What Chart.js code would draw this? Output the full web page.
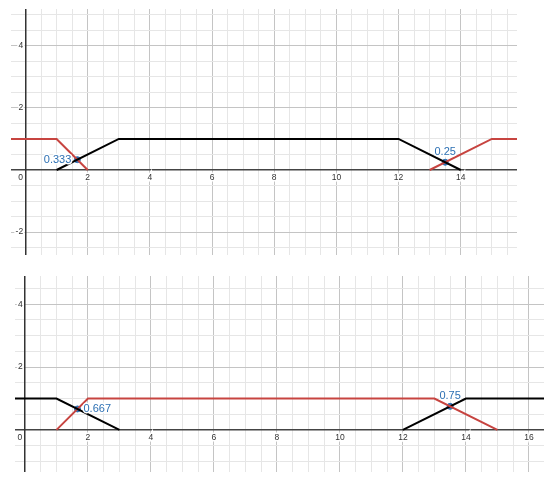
<!DOCTYPE html>
<html>
<head>
<meta charset="utf-8">
<script src="https://cdn.jsdelivr.net/npm/chart.js@4/dist/chart.umd.min.js"></script>
<style>
  html, body { margin: 0; padding: 0; background: #fff; }
  body { width: 550px; height: 480px; position: relative; overflow: hidden; }
  canvas { position: absolute; }
  #top-graph { left: 11px; top: 9px; }
  #bottom-graph { left: 15px; top: 276px; }
</style>
</head>
<body>
<canvas id="top-graph" width="506" height="246"></canvas>
<canvas id="bottom-graph" width="529" height="196"></canvas>
<script>
// ── 데이터 ──────────────────────────────────────────
// 위 그래프
const topBlackX = [1, 3, 12, 14];
const topBlackY = [0, 1, 1, 0];
const topRedLeftX = [-1, 1, 2];
const topRedLeftY = [1, 1, 0];
const topRedRightX = [13, 15, 17];
const topRedRightY = [0, 1, 1];
const topPointX = [1.667, 13.5];
const topPointY = [0.333, 0.25];
const topPointText = ["0.333", "0.25"];

// 아래 그래프
const botBlackLeftX = [-1, 1, 3];
const botBlackLeftY = [1, 1, 0];
const botRedX = [1, 2, 13, 15];
const botRedY = [0, 1, 1, 0];
const botBlackRightX = [12, 14, 17];
const botBlackRightY = [0, 1, 1];
const botPointX = [1.667, 13.5];
const botPointY = [0.667, 0.75];
const botPointText = ["0.667", "0.75"];

// 보이는 범위
const topRangeX = [-0.467, 15.81];
const topRangeY = [-2.74, 5.19];
const botRangeX = [-0.317, 16.48];
const botRangeY = [-1.34, 4.9];

const RED = "#c74440";
const BLACK = "#000000";
const BLUE = "#2d70b3";
const FONT = "'Liberation Sans', Arial, sans-serif";

const zip = (xs, ys) => xs.map((x, i) => ({ x, y: ys[i] }));

function lineSet(xs, ys, color) {
  return {
    type: "line",
    data: zip(xs, ys),
    borderColor: color,
    borderWidth: 2,
    pointRadius: 0,
    tension: 0,
    fill: false,
  };
}

function pointSet(xs, ys, texts, sides) {
  return {
    type: "scatter",
    data: zip(xs, ys),
    backgroundColor: BLUE,
    borderColor: BLUE,
    pointRadius: 3,
    pointLabels: texts,
    labelSides: sides,
  };
}

// ── 점 옆에 값 글자 ────────────────────────────────────────
const pointLabelPlugin = {
  id: "pointLabels",
  afterDatasetsDraw(chart) {
    const ctx = chart.ctx;
    chart.data.datasets.forEach((ds, i) => {
      if (!ds.pointLabels) return;
      chart.getDatasetMeta(i).data.forEach((el, j) => {
        const side = ds.labelSides[j];
        ctx.save();
        ctx.font = "11px " + FONT;
        ctx.fillStyle = BLUE;
        ctx.strokeStyle = "#fff";
        ctx.lineWidth = 3;
        ctx.lineJoin = "round";
        let x = el.x, y = el.y;
        if (side === "left") { ctx.textAlign = "right"; ctx.textBaseline = "middle"; x -= 6; }
        else if (side === "right") { ctx.textAlign = "left"; ctx.textBaseline = "middle"; x += 6; }
        else { ctx.textAlign = "center"; ctx.textBaseline = "alphabetic"; y -= 7; }
        ctx.strokeText(ds.pointLabels[j], x, y);
        ctx.fillText(ds.pointLabels[j], x, y);
        ctx.restore();
      });
    });
  },
};

const isMult = (v, s) => Math.abs(v / s - Math.round(v / s)) < 1e-6;

function gridColor(ctx) {
  const v = ctx.tick && ctx.tick.value;
  if (v === undefined || !isMult(v, 0.5)) return "rgba(0,0,0,0)";
  if (Math.abs(v) < 1e-6) return "rgba(0,0,0,0)";
  return isMult(v, 2) ? "#c4c4c4" : "#e6e6e6";
}

// 축 글자가 차트 영역을 밀어내지 않도록
const noPadding = (scale) => {
  scale.paddingLeft = 0;
  scale.paddingRight = 0;
  scale.paddingTop = 0;
  scale.paddingBottom = 0;
};

const tickFont = { family: FONT, size: 8.5 };
const baseTicks = {
  stepSize: 0.5,
  includeBounds: false,
  autoSkip: false,
  maxRotation: 0,
  padding: 3,
  color: "#333",
  font: tickFont,
  textStrokeColor: "#fff",
  textStrokeWidth: 3,
};

function makeGraph(id, rx, ry, datasets) {
  return new Chart(document.getElementById(id), {
    data: { datasets },
    plugins: [pointLabelPlugin],
    options: {
      responsive: false,
      maintainAspectRatio: false,
      animation: false,
      layout: { padding: 0, autoPadding: false },
      plugins: { legend: { display: false }, tooltip: { enabled: false } },
      scales: {
        x: {
          type: "linear",
          min: rx[0], max: rx[1],
          position: { y: 0 },
          afterFit: noPadding,
          grid: { color: gridColor, drawTicks: false, lineWidth: 1 },
          border: { color: "#444", width: 1.5 },
          ticks: {
            ...baseTicks,
            callback: (v) => (isMult(v, 2) && Math.abs(v) > 1e-6 ? String(v) : ""),
          },
        },
        y: {
          type: "linear",
          min: ry[0], max: ry[1],
          position: { x: 0 },
          afterFit: noPadding,
          grid: { color: gridColor, drawTicks: false, lineWidth: 1 },
          border: { color: "#333", width: 1.5 },
          ticks: {
            ...baseTicks,
            // 오른쪽 정렬이라 뒤에 빈칸을 두어 축에서 띄움
            callback: (v) => (isMult(v, 2) && Math.abs(v) > 1e-6 ? String(v) + " " : ""),
          },
        },
        // 원점의 "0" 글자만 따로
        origin: {
          type: "linear",
          axis: "x",
          min: rx[0], max: rx[1],
          position: { y: 0 },
          afterFit: noPadding,
          grid: { display: false, drawTicks: false },
          border: { display: false },
          ticks: {
            stepSize: 2,
            includeBounds: false,
            autoSkip: false,
            padding: 3,
            labelOffset: -5,
            color: "#333",
            font: tickFont,
            callback: (v) => (Math.abs(v) < 1e-6 ? "0" : ""),
          },
        },
      },
    },
  });
}

makeGraph("top-graph", topRangeX, topRangeY, [
  lineSet(topBlackX, topBlackY, BLACK),
  lineSet(topRedLeftX, topRedLeftY, RED),
  lineSet(topRedRightX, topRedRightY, RED),
  pointSet(topPointX, topPointY, topPointText, ["left", "above"]),
]);

makeGraph("bottom-graph", botRangeX, botRangeY, [
  lineSet(botBlackLeftX, botBlackLeftY, BLACK),
  lineSet(botRedX, botRedY, RED),
  lineSet(botBlackRightX, botBlackRightY, BLACK),
  pointSet(botPointX, botPointY, botPointText, ["right", "above"]),
]);
</script>
</body>
</html>
